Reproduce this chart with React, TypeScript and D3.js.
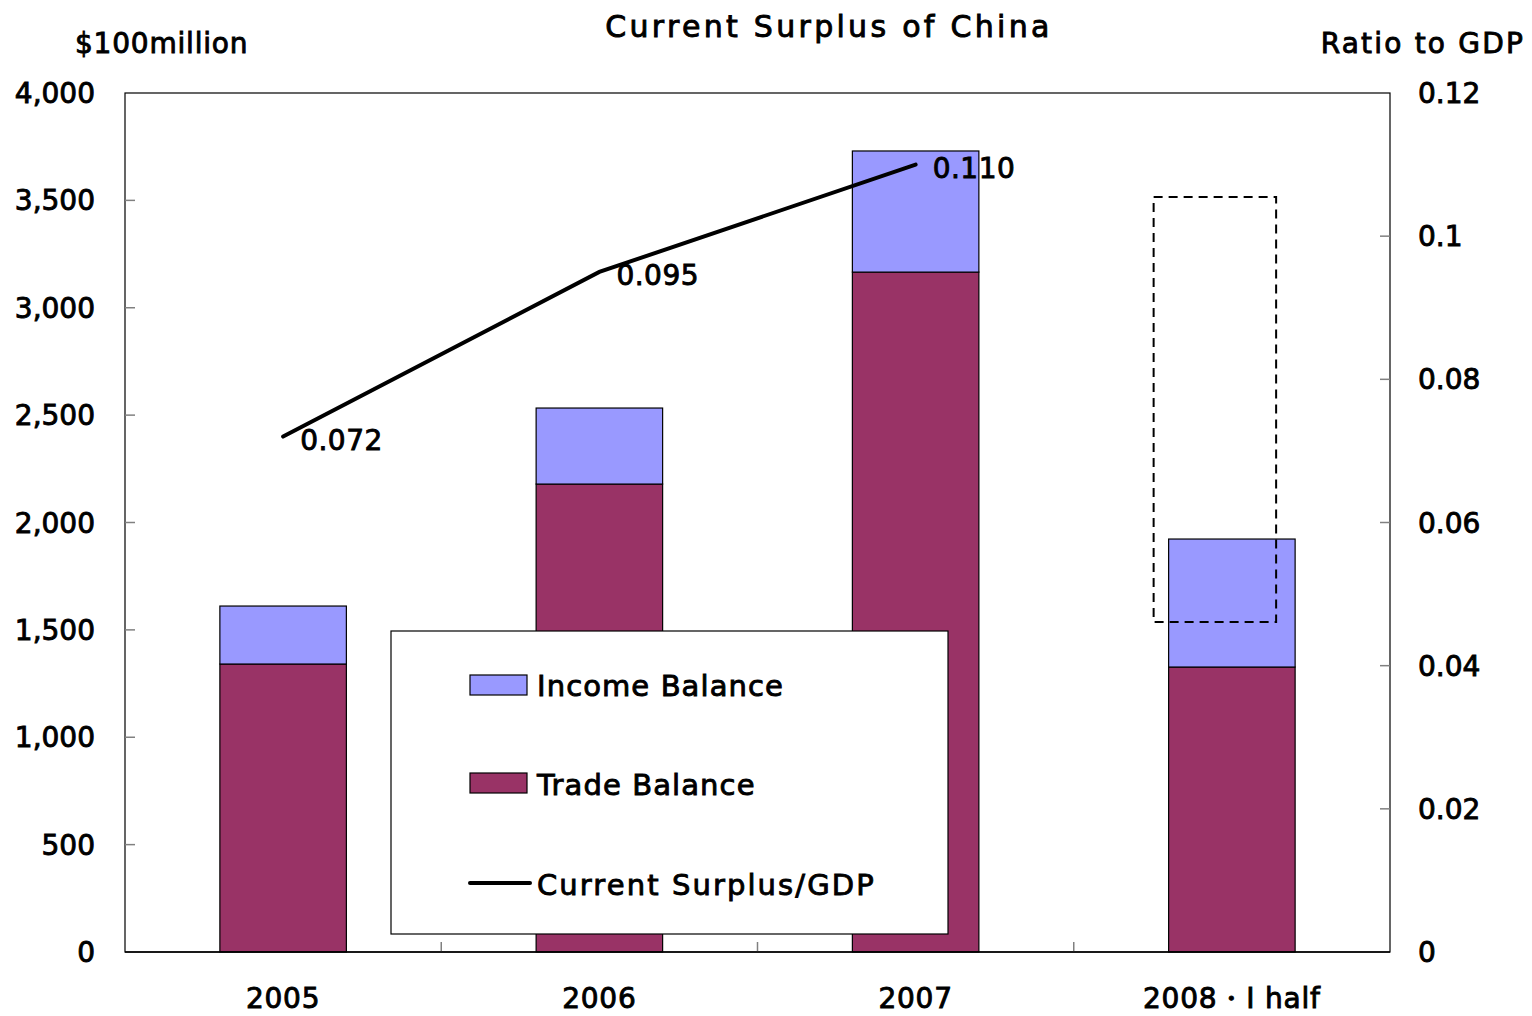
import React from "react";
import * as d3 from "d3";

// values
const years = ["2005", "2006", "2007", "2008・Ⅰ half"];
const tradeBalance = [1341, 2179, 3166, 1327];
const incomeBalance = [270, 354, 564, 596];
const surplusRatio = [0.072, 0.095, 0.11];
const ratioLabels = ["0.072", "0.095", "0.110"];
const leftTicks = [0, 500, 1000, 1500, 2000, 2500, 3000, 3500, 4000];
const rightTicks = [0, 0.02, 0.04, 0.06, 0.08, 0.1, 0.12];
// dashed box drawn over the 2008 half-year bar
const dashedRange = [1537, 3516];

const W = 1532;
const H = 1016;
const margin = { top: 93, right: 142, bottom: 64, left: 125 };
const font = "'DejaVu Sans', sans-serif";

const App = () => {
  const innerW = W - margin.left - margin.right;
  const innerH = H - margin.top - margin.bottom;

  const x = d3.scaleBand().domain(years).range([0, innerW]).padding(0);
  const y = d3.scaleLinear().domain([0, 4000]).range([innerH, 0]);
  const y2 = d3.scaleLinear().domain([0, 0.12]).range([innerH, 0]);

  const barW = x.bandwidth() * 0.4;
  const cx = (i) => x(years[i]) + x.bandwidth() / 2;

  const line = d3
    .line()
    .x((_, i) => cx(i))
    .y((d) => y2(d));

  const txt = { fontFamily: font, fill: "#000", stroke: "#000", strokeWidth: 0.9 };
  const fmtRight = (d) => String(+d.toFixed(2));

  return (
    <svg
      width={W}
      height={H}
      style={{ position: "absolute", left: 0, top: 0, background: "#fff" }}
    >
      <text x={829} y={37} textAnchor="middle" fontSize={30} letterSpacing={3.3} {...txt}>
        Current Surplus of China
      </text>
      <text x={75} y={53} fontSize={28} letterSpacing={0.8} {...txt}>
        $100million
      </text>
      <text x={1525} y={53} textAnchor="end" fontSize={28} letterSpacing={2.2} {...txt}>
        Ratio to GDP
      </text>

      <g transform={`translate(${margin.left},${margin.top})`}>
        {/* stacked bars */}
        {years.map((yr, i) => (
          <g key={yr}>
            <rect
              x={cx(i) - barW / 2}
              y={y(tradeBalance[i])}
              width={barW}
              height={innerH - y(tradeBalance[i])}
              fill="#993366"
              stroke="#000"
              strokeWidth={1.2}
            />
            <rect
              x={cx(i) - barW / 2}
              y={y(tradeBalance[i] + incomeBalance[i])}
              width={barW}
              height={y(tradeBalance[i]) - y(tradeBalance[i] + incomeBalance[i])}
              fill="#9999FF"
              stroke="#000"
              strokeWidth={1.2}
            />
          </g>
        ))}

        {/* dashed box on the last category */}
        <rect
          x={cx(3) - barW / 2 - 15}
          y={y(dashedRange[1])}
          width={barW - 4}
          height={y(dashedRange[0]) - y(dashedRange[1])}
          fill="none"
          stroke="#000"
          strokeWidth={2}
          strokeDasharray="9,6"
        />

        {/* ratio line */}
        <path
          d={line(surplusRatio)}
          fill="none"
          stroke="#000"
          strokeWidth={4}
          strokeLinecap="round"
        />
        {surplusRatio.map((d, i) => (
          <text key={i} x={cx(i) + 17} y={y2(d) + 13} fontSize={28} letterSpacing={0.5} {...txt}>
            {ratioLabels[i]}
          </text>
        ))}

        {/* frame */}
        <rect x={0} y={0} width={innerW} height={innerH} fill="none" stroke="#000" strokeWidth={1.2} />

        {/* left axis */}
        {leftTicks.map((t) => (
          <g key={t} transform={`translate(0,${y(t)})`}>
            {t > 0 && t < 4000 && <line x1={0} x2={10} stroke="#808080" strokeWidth={1.5} />}
            <text x={-30} dy="0.36em" textAnchor="end" fontSize={28} {...txt}>
              {d3.format(",")(t)}
            </text>
          </g>
        ))}

        {/* right axis */}
        {rightTicks.map((t) => (
          <g key={t} transform={`translate(${innerW},${y2(t)})`}>
            {t > 0 && t < 0.12 && <line x1={0} x2={-10} stroke="#808080" strokeWidth={1.5} />}
            <text x={28} dy="0.36em" textAnchor="start" fontSize={28} {...txt}>
              {fmtRight(t)}
            </text>
          </g>
        ))}

        {/* category axis */}
        {years.slice(1).map((yr) => (
          <line key={yr} x1={x(yr)} x2={x(yr)} y1={innerH} y2={innerH - 10} stroke="#808080" strokeWidth={1.5} />
        ))}
        <line x1={0} x2={innerW} y1={innerH} y2={innerH} stroke="#000" strokeWidth={1.5} />
        {years.map((yr, i) => (
          <text key={yr} x={cx(i)} y={innerH + 56} textAnchor="middle" fontSize={28} letterSpacing={0.8} {...txt}>
            {yr}
          </text>
        ))}

        {/* legend */}
        <g transform={`translate(${391 - margin.left},${631 - margin.top})`}>
          <rect x={0} y={0} width={557} height={303} fill="#fff" stroke="#000" strokeWidth={1.2} />
          <rect x={79} y={44} width={57} height={20} fill="#9999FF" stroke="#000" strokeWidth={1.2} />
          <text x={146} y={65} fontSize={29} letterSpacing={1.1} {...txt}>Income Balance</text>
          <rect x={79} y={142} width={57} height={20} fill="#993366" stroke="#000" strokeWidth={1.2} />
          <text x={146} y={164} fontSize={29} letterSpacing={1.1} {...txt}>Trade Balance</text>
          <line x1={79} x2={139} y1={252} y2={252} stroke="#000" strokeWidth={4} strokeLinecap="round" />
          <text x={146} y={264} fontSize={29} letterSpacing={2.1} {...txt}>Current Surplus/GDP</text>
        </g>
      </g>
    </svg>
  );
};

export default App;
